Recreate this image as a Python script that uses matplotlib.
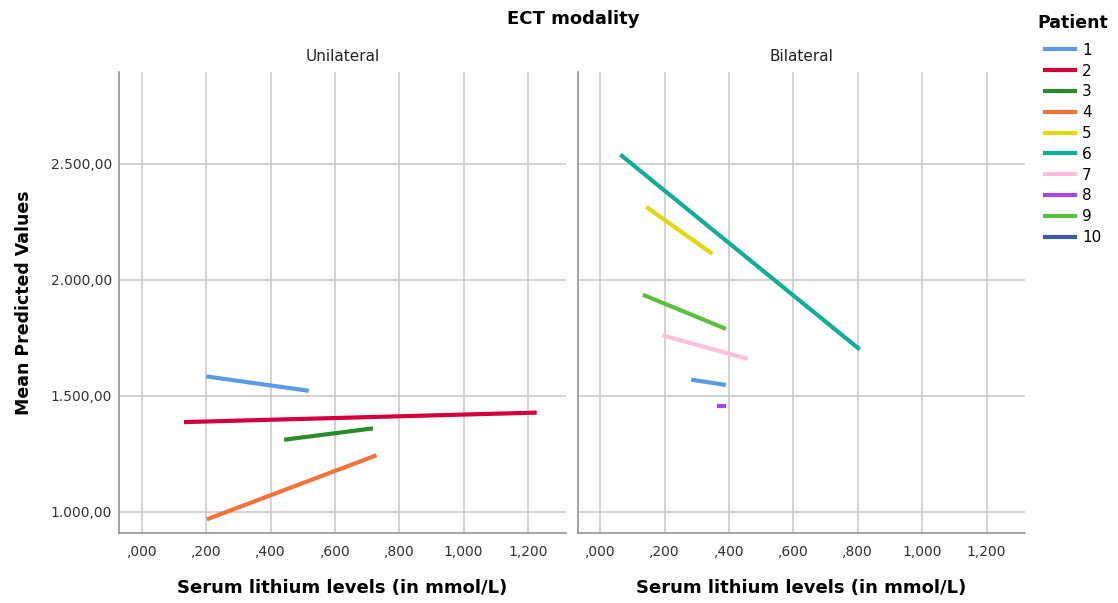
import numpy as np
import matplotlib
matplotlib.use("Agg")
import matplotlib.pyplot as plt
from matplotlib.ticker import FuncFormatter, MultipleLocator
from matplotlib.lines import Line2D

plt.rcParams['font.family'] = ['DejaVu Sans']

# data: each segment is one patient's predicted line (start / end)
patients = ['1', '2', '3', '4', '5', '6', '7', '8', '9', '10']
colors = ['#5b9be6', '#d4003c', '#2a8a2a', '#f5733a', '#e3d80c',
          '#12ad98', '#ffbedc', '#a545ee', '#5bbf3e', '#3e5ba6']

uni_pat = ['1', '2', '3', '4']
uni_x0 = [0.200, 0.131, 0.442, 0.202]
uni_x1 = [0.519, 1.227, 0.718, 0.729]
uni_y0 = [1583, 1386, 1310, 967]
uni_y1 = [1521, 1427, 1359, 1243]

bil_pat = ['6', '5', '9', '7', '1', '8']
bil_x0 = [0.062, 0.143, 0.132, 0.193, 0.282, 0.362]
bil_x1 = [0.806, 0.348, 0.390, 0.458, 0.390, 0.390]
bil_y0 = [2539, 2313, 1935, 1760, 1569, 1457]
bil_y1 = [1699, 2111, 1788, 1658, 1546, 1457]

panels = [('Unilateral', uni_pat, uni_x0, uni_x1, uni_y0, uni_y1),
          ('Bilateral', bil_pat, bil_x0, bil_x1, bil_y0, bil_y1)]

col = dict(zip(patients, colors))

fig = plt.figure(figsize=(11.18, 6.03), dpi=100)
W, H = 1118., 603.
lefts = [119, 577.5]
bottom, top = 533, 72


def xfmt(v, pos):
    s = '%.3f' % v
    s = s.replace('.', ',')
    if s.startswith('0,'):
        s = s[1:]
    return s


def yfmt(v, pos):
    s = '{:,.2f}'.format(v)
    return s.replace(',', 'X').replace('.', ',').replace('X', '.')


axes = []
for i, (name, pats, x0, x1, y0, y1) in enumerate(panels):
    ax = fig.add_axes([lefts[i] / W, 1 - bottom / H, 447 / W, (bottom - top) / H])
    axes.append(ax)
    for p, a, b, c, d in zip(pats, x0, x1, y0, y1):
        ax.plot([a, b], [c, d], color=col[p], lw=3, solid_capstyle='butt', zorder=3)
    ax.set_xlim(-0.071, 1.318)
    ax.set_ylim(908, 2895)
    ax.xaxis.set_major_locator(MultipleLocator(0.2))
    ax.set_yticks([1000, 1500, 2000, 2500])
    ax.xaxis.set_major_formatter(FuncFormatter(xfmt))
    ax.yaxis.set_major_formatter(FuncFormatter(yfmt))
    ax.grid(True, color='#c8c8c8', lw=1.1)
    ax.set_axisbelow(True)
    for s in ['top', 'right']:
        ax.spines[s].set_visible(False)
    for s in ['left', 'bottom']:
        ax.spines[s].set_color('#8a8a8a')
        ax.spines[s].set_linewidth(1.1)
    ax.tick_params(length=0, labelsize=10, labelcolor='#333333')
    ax.tick_params(axis='x', pad=9)
    ax.tick_params(axis='y', pad=5)
    ax.set_xlabel('Serum lithium levels (in mmol/L)', fontsize=13, fontweight='bold',
                  labelpad=14)
    ax.text(0.5, 1 + 15 / 461., name, transform=ax.transAxes, ha='center', va='center',
            fontsize=11, color='#222222')
    if i == 1:
        ax.tick_params(axis='y', labelleft=False)

axes[0].set_ylabel('Mean Predicted Values', fontsize=12.5, fontweight='bold', labelpad=13)

fig.text(573.5 / W, 1 - 19 / H, 'ECT modality', ha='center', va='center',
         fontsize=13, fontweight='bold')

handles = [Line2D([], [], color=c, lw=3) for c in colors]
leg = fig.legend(handles, patients, loc='upper left', bbox_to_anchor=(1027 / W, 1 - 3 / H),
                 frameon=False, title='Patient', fontsize=11, handlelength=2.0,
                 handletextpad=0.45, labelspacing=0.38, borderpad=0.2)
leg.get_title().set_fontweight('bold')
leg.get_title().set_fontsize(12.5)
leg._legend_box.sep = 8

fig.savefig('out.png', dpi=100)
